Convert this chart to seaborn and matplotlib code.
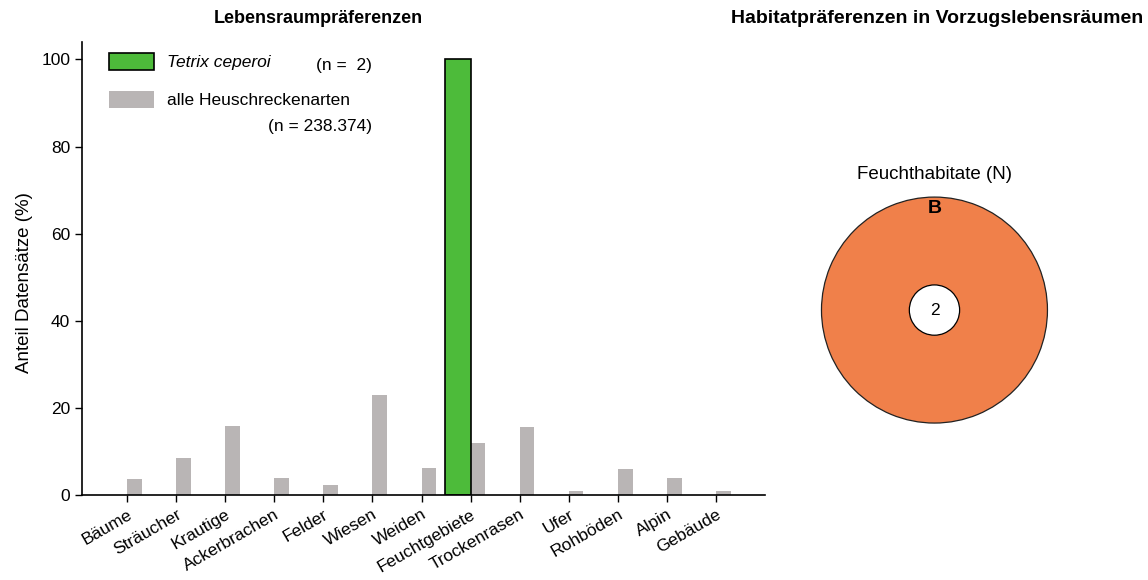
import numpy as np
import pandas as pd
import matplotlib
matplotlib.use("Agg")
import matplotlib.pyplot as plt
import seaborn as sns
from matplotlib.patches import Patch

categories = ["Bäume", "Sträucher", "Krautige", "Ackerbrachen", "Felder", "Wiesen", "Weiden",
              "Feuchtgebiete", "Trockenrasen", "Ufer", "Rohböden", "Alpin", "Gebäude"]
tetrix = [0, 0, 0, 0, 0, 0, 0, 100, 0, 0, 0, 0, 0]
alle = [3.6, 8.5, 15.9, 3.9, 2.3, 23.0, 6.2, 12.0, 15.7, 1.0, 6.0, 3.8, 1.0]
yticks = [0, 20, 40, 60, 80, 100]

habitat_label = "Feuchthabitate (N)"
habitat_code = "B"
habitat_n = [2]

green = "#4dbb3a"
grey = "#b9b5b5"
orange = "#f0804a"

sns.set_style("ticks")
plt.rcParams["font.family"] = ["Liberation Sans", "DejaVu Sans"]
plt.rcParams["text.color"] = "black"
plt.rcParams["axes.labelcolor"] = "black"
plt.rcParams["xtick.color"] = "black"
plt.rcParams["ytick.color"] = "black"

df = pd.DataFrame({"Lebensraum": categories, "tetrix": tetrix, "alle": alle})

fig = plt.figure(figsize=(11.48, 5.8), dpi=100)
ax = fig.add_axes([0.0714, 0.1466, 0.595, 0.781])

# gray bars (all species), shifted right of the tick
sns.barplot(data=df, x="Lebensraum", y="alle", color=grey, width=0.3, ax=ax,
            saturation=1, linewidth=0)
for p in ax.patches:
    p.set_x(p.get_x() + 0.15)
n_grey = len(ax.patches)
# green bars (Tetrix ceperoi), left of the tick
sns.barplot(data=df, x="Lebensraum", y="tetrix", color=green, width=0.53, ax=ax,
            saturation=1, edgecolor="black", linewidth=1.2)
for p in ax.patches[n_grey:]:
    p.set_x(p.get_x() - 0.265)
    if p.get_height() == 0:
        p.set_visible(False)

ax.set_xlim(-0.92, 13.0)
ax.set_ylim(0, 104)
ax.set_yticks(yticks)
ax.tick_params(axis="both", labelsize=12.5, length=5, width=1, color="black")
ax.set_xticks(range(len(categories)))
ax.set_xticklabels(categories, rotation=30, ha="right", rotation_mode="anchor")
ax.set_xlabel("")
ax.set_ylabel("Anteil Datensätze (%)", fontsize=13.5)
ax.yaxis.set_label_coords(-0.072, 0.47)
for s in ["top", "right"]:
    ax.spines[s].set_visible(False)
for s in ["left", "bottom"]:
    ax.spines[s].set_linewidth(1.2)
    ax.spines[s].set_color("black")
fig.text(0.277, 0.968, "Lebensraumpräferenzen", ha="center", va="center",
         fontsize=13, fontweight="bold")

handles = [Patch(facecolor=green, edgecolor="black", linewidth=1.2),
           Patch(facecolor=grey, edgecolor="none")]
leg = ax.legend(handles, ["Tetrix ceperoi", "alle Heuschreckenarten"], loc="upper left",
                bbox_to_anchor=(0.017, 1.01), frameon=False, fontsize=12.5,
                handlelength=2.6, handleheight=1.1, labelspacing=1.2, handletextpad=0.75)
leg.get_texts()[0].set_fontstyle("italic")
ax.text(0.425, 0.948, "(n =  2)", transform=ax.transAxes, fontsize=12.5, ha="right", va="center")
ax.text(0.425, 0.813, "(n = 238.374)", transform=ax.transAxes, fontsize=12.5, ha="right", va="center")

# right panel: habitat preference circle
ax2 = fig.add_axes([0.666, 0.1724, 0.296, 0.586])
ax2.pie([1], radius=0.665, colors=[orange],
        wedgeprops=dict(edgecolor="#222222", linewidth=0.9))
ax2.pie([1], radius=0.148, colors=["white"],
        wedgeprops=dict(edgecolor="black", linewidth=0.9))
ax2.set_xlim(-1, 1)
ax2.set_ylim(-1, 1)
ax2.set_aspect("equal")
ax2.axis("off")
ax2.text(0, 0, str(habitat_n[0]), ha="center", va="center", fontsize=12.5)
ax2.text(0, 0.6, habitat_code, ha="center", va="center", fontsize=14, fontweight="bold")
ax2.text(0, 0.795, habitat_label, ha="center", va="center", fontsize=13.5)
fig.text(0.8165, 0.968, "Habitatpräferenzen in Vorzugslebensräumen", ha="center", va="center",
         fontsize=14, fontweight="bold")

fig.savefig("out.png", dpi=100)
